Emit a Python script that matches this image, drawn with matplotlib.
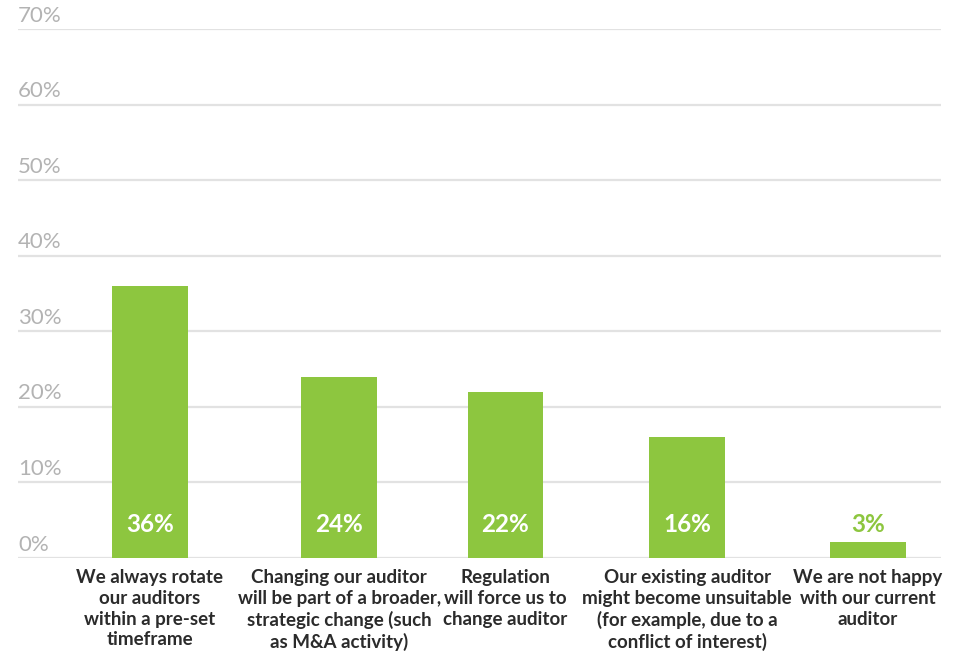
import matplotlib
matplotlib.use("Agg")
import matplotlib.pyplot as plt
import matplotlib.transforms as mtransforms

# data
CATEGORIES = [
    "We always rotate\nour auditors\nwithin a pre-set\ntimeframe",
    "Changing our auditor\nwill be part of a broader,\nstrategic change (such\nas M&A activity)",
    "Regulation\nwill force us to\nchange auditor",
    "Our existing auditor\nmight become unsuitable\n(for example, due to a\nconflict of interest)",
    "We are not happy\nwith our current\nauditor",
]
VALUES = [36, 24, 22, 16, 2.1]
VALUE_LABELS = ["36%", "24%", "22%", "16%", "3%"]
YTICKS = [0, 10, 20, 30, 40, 50, 60, 70]

# layout (category centres, in axis units; the original spacing is not even)
XPOS = [1.03, 3.08, 4.88, 6.85, 8.81]
XLIM = (-0.4, 9.6)
BAR_W = 0.82

GREEN = "#8dc63f"
GRID = "#e2e2e2"
TICK_GREY = "#b3b3b3"
TEXT_DARK = "#2b2b2b"

plt.rcParams["font.family"] = ["Lato", "DejaVu Sans"]

fig = plt.figure(figsize=(9.58, 6.51), dpi=100)
ax = fig.add_axes([18 / 958, 1 - 558 / 651, (941 - 18) / 958, (558 - 29) / 651])

ax.bar(XPOS, VALUES, width=BAR_W, color=GREEN, zorder=2)

for y in YTICKS:
    ax.axhline(y, color=GRID, lw=1.6, zorder=1)

ax.set_xlim(*XLIM)
ax.set_ylim(0, 70)

# y tick labels sit above the gridlines at the left edge
trans = mtransforms.blended_transform_factory(ax.transAxes, ax.transData)
for y in YTICKS:
    ax.annotate(f"{y}%", xy=(0, y), xycoords=trans, xytext=(0, 2.5),
                textcoords="offset points", ha="left", va="bottom",
                fontsize=16, color=TICK_GREY)

# value labels near the bottom of each bar
for x, v, lab in zip(XPOS, VALUES, VALUE_LABELS):
    inside = v > 8
    ax.text(x, 4.45, lab, ha="center", va="center", fontsize=17.5,
            fontweight="bold", color="white" if inside else GREEN, zorder=3)

ax.set_yticks([])
ax.set_xticks(XPOS)
ax.set_xticklabels(CATEGORIES, fontsize=13.5, fontweight="bold", color=TEXT_DARK,
                   linespacing=1.27)
ax.tick_params(axis="x", length=0, pad=8)
for sp in ax.spines.values():
    sp.set_visible(False)

fig.savefig("out.png", dpi=100)
